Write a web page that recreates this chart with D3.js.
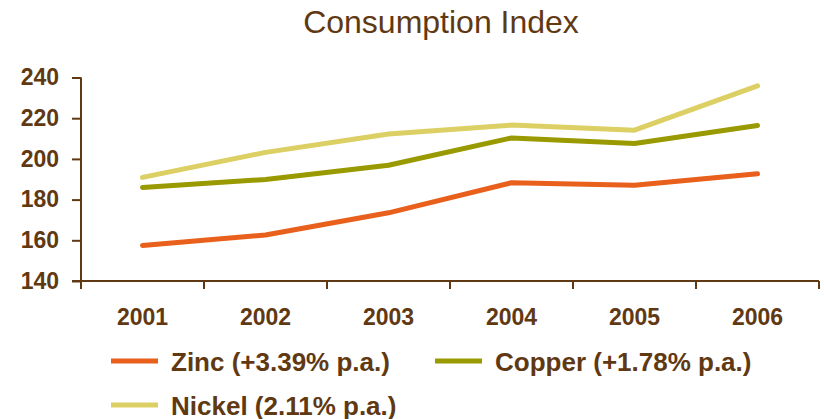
<!DOCTYPE html>
<html>
<head>
<meta charset="utf-8">
<script src="https://cdn.jsdelivr.net/npm/d3@7"></script>
<style>
body { margin: 0; background: #fff; }
svg { display: block; font-family: "Liberation Sans", Arial, sans-serif; }
</style>
</head>
<body>
<div class="chart"></div>
<script>
// data
var years = ["2001", "2002", "2003", "2004", "2005", "2006"]
var zinc = [157.5, 162.6, 173.5, 188.3, 187.0, 192.7]
var copper = [186.0, 189.9, 196.9, 210.3, 207.6, 216.4]
var nickel = [190.9, 203.2, 212.2, 216.6, 214.1, 235.9]
var yTicks = [140, 160, 180, 200, 220, 240]
var seriesNames = ["Zinc (+3.39% p.a.)", "Copper (+1.78% p.a.)", "Nickel (2.11% p.a.)"]

var w = 824
var h = 419
var brown = "#603913"
var colors = ["#e8601c", "#999900", "#dccf63"]

var svg = d3.select(".chart")
    .append("svg")
    .attr("width", w)
    .attr("height", h)

// title
svg.append("text")
    .attr("x", 441)
    .attr("y", 33)
    .attr("text-anchor", "middle")
    .attr("font-size", 32)
    .attr("fill", brown)
    .text("Consumption Index")

// scales
var xScale = d3.scaleBand()
    .domain(years)
    .range([81, 819])

var yScale = d3.scaleLinear()
    .domain([140, 240])
    .range([281, 77.5])

// y axis
var yAxis = svg.append("g")
    .attr("transform", "translate(81,0)")
    .call(d3.axisLeft(yScale).tickValues(yTicks).tickSize(9).tickPadding(13))

yAxis.select(".domain")
    .attr("d", "M0," + yScale(240) + "V289")
    .attr("stroke", brown)
    .attr("stroke-width", 2)
yAxis.selectAll(".tick line").attr("stroke", brown).attr("stroke-width", 2)
yAxis.selectAll(".tick text")
    .attr("fill", brown)
    .attr("font-size", 23)
    .attr("font-weight", "bold")
    .attr("font-family", "Liberation Sans, Arial, sans-serif")

// x axis, ticks sit on the band edges
var xAxis = svg.append("g")
    .attr("transform", "translate(0," + yScale(140) + ")")

xAxis.append("line")
    .attr("x1", 72)
    .attr("x2", 819)
    .attr("stroke", brown)
    .attr("stroke-width", 2)

xAxis.selectAll(".edge")
    .data(years)
    .enter()
    .append("line")
    .attr("class", "edge")
    .attr("x1", function(d) { return xScale(d) + xScale.bandwidth() })
    .attr("x2", function(d) { return xScale(d) + xScale.bandwidth() })
    .attr("y1", 0)
    .attr("y2", 8)
    .attr("stroke", brown)
    .attr("stroke-width", 2)

xAxis.selectAll(".lbl")
    .data(years)
    .enter()
    .append("text")
    .attr("class", "lbl")
    .attr("x", function(d) { return xScale(d) + xScale.bandwidth() / 2 })
    .attr("y", 44)
    .attr("text-anchor", "middle")
    .attr("font-size", 23)
    .attr("font-weight", "bold")
    .attr("fill", brown)
    .text(function(d) { return d })

// lines
var series = [zinc, copper, nickel]

var valueline = d3.line()
    .x(function(d, i) { return xScale(years[i]) + xScale.bandwidth() / 2 })
    .y(function(d) { return yScale(d) })

svg.selectAll(".series")
    .data(series)
    .enter()
    .append("path")
    .attr("class", "series")
    .attr("d", valueline)
    .attr("fill", "none")
    .attr("stroke", function(d, i) { return colors[i] })
    .attr("stroke-width", 5)
    .attr("stroke-linecap", "round")
    .attr("stroke-linejoin", "round")

// legend
var legendPos = [[111, 361], [435, 361], [111, 405]]

var legend = svg.selectAll(".legend")
    .data(seriesNames)
    .enter()
    .append("g")
    .attr("class", "legend")
    .attr("transform", function(d, i) { return "translate(" + legendPos[i][0] + "," + legendPos[i][1] + ")" })

legend.append("line")
    .attr("x1", 0)
    .attr("x2", 47)
    .attr("stroke", function(d, i) { return colors[i] })
    .attr("stroke-width", 5)

legend.append("text")
    .attr("x", 60)
    .attr("y", 10)
    .attr("font-size", 26)
    .attr("font-weight", "bold")
    .attr("fill", brown)
    .text(function(d) { return d })
</script>
</body>
</html>
